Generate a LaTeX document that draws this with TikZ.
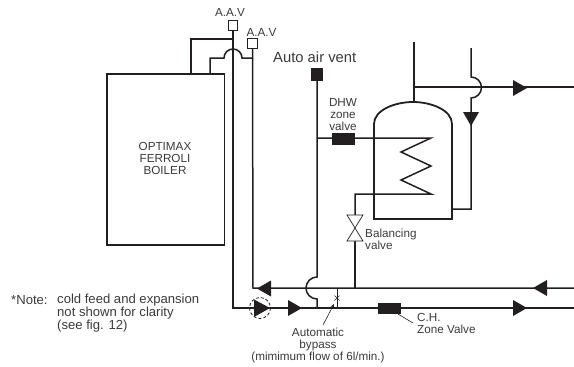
\documentclass[tikz,border=0pt]{standalone}
\usepackage{fontspec}
\usetikzlibrary{arrows.meta}
\setmainfont{Liberation Sans}
\definecolor{ink}{HTML}{231F20}
\definecolor{txt}{HTML}{3A3A3A}
\tikzset{
  x=1pt,y=-1pt,
  pipe/.style={draw=ink,line width=1.5pt},
  heavy/.style={draw=ink,line width=1.8pt},
  vent/.style={draw=ink,fill=white,line width=0.8pt,inner sep=0pt,minimum size=9.5pt},
  lab/.style={text=txt,font=\fontsize{11.7}{12}\selectfont,inner sep=0pt,align=center},
  note/.style={text=txt,font=\fontsize{13.1}{13}\selectfont,inner sep=0pt,align=left},
  big/.style={text=txt,font=\fontsize{14.8}{16}\selectfont,inner sep=0pt}
}
\newcommand{\arrR}[2]{\fill[ink] (#1-7,#2-8) -- (#1+7,#2) -- (#1-7,#2+8) -- cycle;}
\newcommand{\arrL}[2]{\fill[ink] (#1+7,#2-8) -- (#1-7,#2) -- (#1+7,#2+8) -- cycle;}
\begin{document}
\begin{tikzpicture}
\useasboundingbox (0,0) rectangle (574,367);
% coordinates
\node[vent,minimum size=9.5pt] (aav1) at (233,25.5) {};
\node[vent] (aav2) at (252.5,43.5) {};
\node[fill=ink,inner sep=0pt,minimum size=12.5pt] (aavent) at (317,74.5) {};
\node[fill=ink,inner sep=0pt,minimum width=23pt,minimum height=12pt] (dhw) at (343.5,138.5) {};
\node[fill=ink,inner sep=0pt,minimum width=23pt,minimum height=11.5pt] (chz) at (389.5,308.5) {};
% boiler
\draw[heavy] (107,74) rectangle (224.5,245);
% boiler flow pipes
\draw[pipe] (aav1.south) -- (233,308) -- (574,308);
\draw[pipe] (aav2.south) -- (253,288) -- (574,288);
\draw[pipe] (191,74) -- (191,39) -- (233,39);
\draw[pipe] (210,74) -- (210,58) -- (224,58) arc[start angle=180,end angle=360,radius=9] -- (253,58);
% air vent
\draw[pipe] (aavent.south) -- (317,277) arc[start angle=-90,end angle=-270,radius=11] -- (317,308);
% coil
\draw[pipe] (317,138) -- (431,138) -- (401,152) -- (431,166) -- (401,180) -- (431,194) -- (355,194) -- (355,215);
\draw[pipe] (355,241) -- (355,288);
% balancing valve
\draw[draw=ink,line width=0.7pt,fill=white] (347,215) -- (363,215) -- (347,241) -- (363,241) -- cycle;
% cylinder
\draw[heavy] (374,219) -- (374,124) .. controls (374,110) and (395,102) .. (413,102) .. controls (431,102) and (452,110) .. (452,124) -- (452,219) -- cycle;
\draw[pipe] (414,42) -- (414,102);
\draw[pipe] (414,87) -- (574,87);
\draw[pipe] (471,48) -- (471,77) arc[start angle=-90,end angle=90,radius=10.5] -- (471,209) -- (452,209);
% arrows
\fill[ink] (463,112) -- (479,112) -- (471,126) -- cycle;
\arrR{520}{88}
\arrL{540}{288}
\arrL{264}{288.5}
\fill[ink] (254,299.5) -- (270,308) -- (254,317) -- cycle;
\arrR{295}{308}
\arrR{520}{308}
% pump
\draw[ink,line width=0.8pt,densely dashed] (260,308) circle[radius=10.5];
% bypass
\draw[draw=ink,line width=0.8pt] (337,288) -- (337,308);
\draw[draw=ink,line width=0.7pt] (334.5,295.5) -- (339.5,300.5) (339.5,295.5) -- (334.5,300.5);
\coordinate (bp) at (334,304);
\coordinate (bpl) at (323,325);
\draw[draw=ink,line width=0.6pt,-{Stealth[length=4pt,width=3.5pt]}] (bpl) -- (bp);
\coordinate (chl) at (413,323);
\draw[draw=ink,line width=0.6pt] (398,314) -- (chl);
% labels
\node[lab] (l1) at (230,12.5) {A.A.V};
\node[lab] (l2) at (261.5,32) {A.A.V};
\node[big,anchor=west] (l3) at (273,57) {Auto air vent};
\node[lab] (l4) at (343,115) {DHW\\zone\\valve};
\node[lab] (l5) at (165,158) {OPTIMAX\\FERROLI\\BOILER};
\node[lab,anchor=west,align=left] (l6) at (365,239) {Balancing\\valve};
\node[lab,anchor=west,align=left] (l7) at (417,323) {C.H.\\Zone Valve};
\node[lab] (l8) at (318,345) {Automatic\\bypass\\(mimimum flow of 6l/min.)};
\node[note,anchor=west] (l9) at (11,300) {*Note:};
\node[note,anchor=west] (l10) at (57,313) {cold feed and expansion\\not shown for clarity\\(see fig. 12)};
\end{tikzpicture}
\end{document}
